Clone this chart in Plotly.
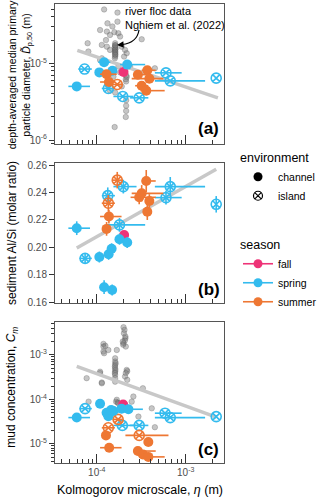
import plotly.graph_objects as go

# ---------------- data ----------------
# panel (a): depth-averaged median primary particle diameter (m)
a_gray_eta = [1.21e-4, 1.71e-4, 1.32e-4, 1.71e-4, 1.5e-4, 1.09e-4, 1.3e-4, 1.58e-4, 1.75e-4, 1.41e-4,
              1.83e-4, 7.9e-5, 8.05e-5, 1.27e-4, 1.14e-4, 1.3e-4, 1.41e-4, 1.91e-4, 2.08e-4, 2.17e-4,
              2.03e-4, 3.2e-4, 1.14e-4, 1.19e-4, 1.75e-4, 1.83e-4, 2.17e-4, 2.14e-4, 1.32e-4, 1.41e-4,
              1.61e-4, 2.14e-4, 2.14e-4, 2.14e-4, 2.12e-4, 1.59e-4, 1.09e-4, 2.37e-4, 1.54e-4, 1.91e-4,
              4.5e-4, 1.61e-4, 1.61e-4, 1.61e-4, 1.63e-4, 1.61e-4, 1.6e-4, 1.61e-4, 1.62e-4, 1.61e-4,
              1.6e-4, 1.61e-4, 1.62e-4, 1.61e-4, 1.6e-4, 1.62e-4, 2.12e-4, 2.15e-4]
a_gray_D = [5.0e-5, 4.55e-5, 3.3e-5, 3.47e-5, 3.0e-5, 2.7e-5, 2.58e-5, 2.53e-5, 2.45e-5, 2.33e-5,
            2.22e-5, 1.82e-5, 1.42e-5, 2.0e-5, 1.73e-5, 1.64e-5, 1.49e-5, 1.64e-5, 1.49e-5, 1.35e-5,
            1.22e-5, 2.05e-5, 1.16e-5, 1.05e-5, 9.05e-6, 7.6e-6, 6.6e-6, 5.8e-6, 5.2e-6, 4.4e-6,
            4.16e-6, 3.3e-6, 2.8e-6, 2.4e-6, 2.0e-6, 1.48e-6, 1.1e-5, 9.0e-6, 6.7e-6, 5.0e-6,
            8.6e-6, 1.82e-5, 1.72e-5, 1.64e-5, 1.56e-5, 1.49e-5, 1.42e-5, 1.35e-5, 1.28e-5, 1.22e-5,
            1.16e-5, 1.5e-5, 1.4e-5, 1.3e-5, 1.6e-5, 1.7e-5, 6.2e-6, 6.9e-6]
a_trend_eta = [6.05e-5, 2.3e-3]
a_trend_D = [1.47e-5, 3.55e-6]

a_spring_ch_eta = [5.96e-5, 1.07e-4, 1.21e-4, 1.5e-4, 2.2e-4]
a_spring_ch_D = [5.0e-6, 7.6e-6, 1.03e-5, 8.0e-6, 9.6e-6]
a_spring_ch_lo = [4.8e-5, 1.0e-4, 1.04e-4, 1.35e-4, 1.83e-4]
a_spring_ch_hi = [8.4e-5, 1.15e-4, 1.42e-4, 1.68e-4, 3.5e-4]

a_spring_is_eta = [7.3e-5, 1.35e-4, 1.96e-4, 3.0e-4, 6.0e-4, 6.7e-4, 2.2e-3]
a_spring_is_D = [8.4e-6, 4.7e-6, 3.7e-6, 3.55e-6, 7.5e-6, 5.9e-6, 6.4e-6]
a_spring_is_lo = [6.2e-5, 1.14e-4, 1.54e-4, 2.37e-4, 4.5e-4, 4.5e-4, 2.2e-3]
a_spring_is_hi = [8.8e-5, 1.6e-4, 2.58e-4, 3.8e-4, 9.0e-4, 1.65e-3, 2.2e-3]

a_fall_eta = [2.0e-4]
a_fall_D = [7.7e-6]
a_fall_lo = [1.9e-4]
a_fall_hi = [2.1e-4]

a_summer_ch_eta = [1.29e-4, 1.37e-4, 2.9e-4, 3.7e-4, 3.9e-4, 3.2e-4, 3.6e-4]
a_summer_ch_D = [7.2e-6, 5.7e-6, 7.1e-6, 8.1e-6, 6.3e-6, 5.1e-6, 4.4e-6]
a_summer_ch_lo = [1.09e-4, 1.09e-4, 2.6e-4, 3.2e-4, 2.47e-4, 2.7e-4, 3.1e-4]
a_summer_ch_hi = [1.68e-4, 1.6e-4, 3.6e-4, 4.6e-4, 5.6e-4, 3.8e-4, 5.8e-4]

a_summer_is_eta = [1.7e-4]
a_summer_is_D = [5.3e-6]
a_summer_is_lo = [1.5e-4]
a_summer_is_hi = [1.95e-4]

# panel (b): sediment Al/Si (molar ratio)
b_trend_eta = [5.96e-5, 2.2e-3]
b_trend_AlSi = [0.1995, 0.2569]

b_spring_ch_eta = [5.96e-5, 1.07e-4, 1.36e-4, 1.47e-4, 1.8e-4, 2.2e-4, 1.21e-4, 1.49e-4]
b_spring_ch_AlSi = [0.214, 0.193, 0.195, 0.199, 0.206, 0.2036, 0.171, 0.169]
b_spring_ch_lo = [4.8e-5, 1.0e-4, 1.25e-4, 1.38e-4, 1.7e-4, 2.05e-4, 1.1e-4, 1.38e-4]
b_spring_ch_hi = [8.4e-5, 1.15e-4, 1.45e-4, 1.58e-4, 1.95e-4, 2.4e-4, 1.32e-4, 1.6e-4]
b_spring_ch_err = [0.005, 0.004, 0.004, 0.004, 0.004, 0.004, 0.005, 0.004]

b_spring_is_eta = [7.4e-5, 1.33e-4, 1.99e-4, 1.8e-4, 6.0e-4, 6.7e-4, 2.2e-3]
b_spring_is_AlSi = [0.192, 0.2377, 0.2443, 0.2164, 0.2363, 0.2443, 0.2314]
b_spring_is_lo = [6.4e-5, 1.14e-4, 1.54e-4, 1.3e-4, 4.5e-4, 4.5e-4, 2.2e-3]
b_spring_is_hi = [8.8e-5, 1.6e-4, 2.8e-4, 3.5e-4, 9.0e-4, 1.65e-3, 2.2e-3]
b_spring_is_err = [0.004, 0.006, 0.005, 0.005, 0.005, 0.007, 0.006]

b_fall_eta = [2.03e-4]
b_fall_AlSi = [0.209]
b_fall_lo = [1.95e-4]
b_fall_hi = [2.1e-4]
b_fall_err = [0.003]

b_summer_ch_eta = [1.37e-4, 1.29e-4, 3.0e-4, 3.2e-4, 3.6e-4, 3.9e-4, 3.7e-4]
b_summer_ch_AlSi = [0.2225, 0.2135, 0.2365, 0.2394, 0.2484, 0.2338, 0.226]
b_summer_ch_lo = [1.09e-4, 1.2e-4, 2.4e-4, 2.47e-4, 3.2e-4, 3.5e-4, 3.5e-4]
b_summer_ch_hi = [1.9e-4, 1.42e-4, 4.6e-4, 5.6e-4, 4.6e-4, 4.2e-4, 3.9e-4]
b_summer_ch_err = [0.005, 0.005, 0.005, 0.006, 0.008, 0.005, 0.006]

b_summer_is_eta = [1.7e-4, 1.35e-4]
b_summer_is_AlSi = [0.249, 0.2322]
b_summer_is_lo = [1.5e-4, 1.14e-4]
b_summer_is_hi = [1.95e-4, 1.6e-4]
b_summer_is_err = [0.006, 0.006]

# panel (c): mud concentration
c_gray_eta = [1.19e-4, 1.19e-4, 1.19e-4, 1.21e-4, 1.35e-4, 2.0e-4, 2.05e-4, 2.02e-4, 2.1e-4, 2.07e-4,
              2.0e-4, 2.12e-4, 1.98e-4, 1.96e-4, 1.68e-4, 1.61e-4, 1.61e-4, 1.61e-4, 1.61e-4, 1.61e-4,
              1.61e-4, 1.61e-4, 1.61e-4, 1.63e-4, 1.6e-4, 1.62e-4, 1.6e-4, 2.17e-4, 2.2e-4, 2.12e-4,
              2.08e-4, 2.2e-4, 1.09e-4, 7.7e-5, 1.14e-4, 3.3e-4, 8.1e-5, 1.68e-4, 1.65e-4, 1.72e-4,
              2.47e-4, 4.15e-4, 2.94e-4, 4.5e-4, 1.09e-4, 1.14e-4, 2.58e-4, 1.75e-4, 1.25e-4, 2.1e-4]
c_gray_Cm = [1.77e-3, 1.54e-3, 1.19e-3, 1.09e-3, 1.29e-3, 4.2e-3, 3.65e-3, 3.07e-3, 2.37e-3, 2.1e-3,
             1.83e-3, 1.54e-3, 1.7e-3, 2.0e-3, 1.29e-3, 8.4e-4, 7.1e-4, 6.0e-4, 5.0e-4, 4.2e-4,
             3.55e-4, 3.0e-4, 2.5e-4, 6.5e-4, 5.5e-4, 4.6e-4, 3.9e-4, 4.6e-4, 4.3e-4, 3.9e-4,
             3.26e-4, 2.75e-4, 3.9e-4, 3.0e-4, 2.4e-4, 1.78e-4, 8.9e-5, 9.8e-5, 8.9e-5, 8.5e-5,
             8.9e-5, 6.3e-5, 4.1e-5, 2.37e-5, 4.2e-4, 2.3e-4, 1.16e-4, 8.2e-5, 1.6e-3, 2.6e-3]
c_trend_eta = [5.96e-5, 2.2e-3]
c_trend_Cm = [5.5e-4, 4.0e-5]

c_spring_ch_eta = [5.96e-5, 1.09e-4, 1.29e-4, 1.54e-4, 1.9e-4, 2.27e-4, 1.35e-4, 1.45e-4]
c_spring_ch_Cm = [3.9e-5, 8.0e-5, 5.0e-5, 5.5e-5, 6.2e-5, 6.0e-5, 4.2e-5, 5.8e-5]
c_spring_ch_lo = [4.8e-5, 1.0e-4, 1.2e-4, 1.4e-4, 1.75e-4, 2.05e-4, 1.25e-4, 1.35e-4]
c_spring_ch_hi = [8.4e-5, 1.18e-4, 1.4e-4, 1.68e-4, 2.05e-4, 3.3e-4, 1.45e-4, 1.58e-4]

c_spring_is_eta = [7.4e-5, 1.94e-4, 3.0e-4, 5.85e-4, 6.7e-4, 2.2e-3]
c_spring_is_Cm = [6.2e-5, 2.6e-5, 2.6e-5, 4.9e-5, 3.9e-5, 4.1e-5]
c_spring_is_lo = [6.4e-5, 1.54e-4, 2.37e-4, 4.5e-4, 4.5e-4, 2.2e-3]
c_spring_is_hi = [8.8e-5, 2.8e-4, 3.8e-4, 9.0e-4, 1.65e-3, 2.2e-3]

c_fall_eta = [1.98e-4]
c_fall_Cm = [7.7e-5]
c_fall_lo = [1.9e-4]
c_fall_hi = [2.1e-4]

c_summer_ch_eta = [1.27e-4, 1.38e-4, 3.8e-4, 2.9e-4, 3.3e-4, 3.8e-4]
c_summer_ch_Cm = [1.55e-5, 8.2e-6, 1.1e-5, 6.9e-6, 5.8e-6, 5.1e-6]
c_summer_ch_lo = [1.2e-4, 1.09e-4, 3.6e-4, 2.6e-4, 2.8e-4, 3.1e-4]
c_summer_ch_hi = [1.35e-4, 1.9e-4, 4.0e-4, 4.6e-4, 3.8e-4, 5.8e-4]

c_summer_is_eta = [1.74e-4, 1.35e-4, 3.0e-4]
c_summer_is_Cm = [3.55e-5, 2.3e-5, 1.55e-5]
c_summer_is_lo = [1.5e-4, 1.14e-4, 2.1e-4]
c_summer_is_hi = [1.95e-4, 1.6e-4, 6.4e-4]

x_tickvals = [1e-4, 1e-3]
x_ticktext = ["10<sup>-4</sup>", "10<sup>-3</sup>"]

# ---------------- styling ----------------
FONT = "Liberation Sans, Arial, sans-serif"
C_SPRING = "#33BBEE"
C_SUMMER = "#EE7733"
C_FALL = "#EE3377"
GRAY_PT = "rgba(120,120,120,0.42)"
GRAY_LN = "#C8C8C8"
TICKC = "#4D4D4D"
LINEC = "#555555"

fig = go.Figure()

def xerr(x, lo, hi, color):
    return dict(type="data", symmetric=False,
                array=[h - v for v, h in zip(x, hi)],
                arrayminus=[v - l for v, l in zip(x, lo)],
                color=color, thickness=1.6, width=0)

def add_group(xax, yax, x, y, lo, hi, color, island, yerr=None):
    kw = dict(x=x, y=y, xaxis=xax, yaxis=yax, mode="markers", showlegend=False,
              error_x=xerr(x, lo, hi, color), hoverinfo="skip")
    if yerr is not None:
        kw["error_y"] = dict(type="data", array=yerr, color=color, thickness=1.6, width=0)
    if island:
        kw["marker"] = dict(symbol="circle-x-open", size=10, color=color, line=dict(width=1.6, color=color))
    else:
        kw["marker"] = dict(symbol="circle", size=10, color=color, line=dict(width=0))
    fig.add_trace(go.Scatter(**kw))

def add_gray(xax, yax, x, y):
    fig.add_trace(go.Scatter(x=x, y=y, xaxis=xax, yaxis=yax, mode="markers", showlegend=False,
                             marker=dict(size=5.5, color=GRAY_PT, line=dict(width=0.6, color="rgba(80,80,80,0.45)")),
                             hoverinfo="skip"))

def add_trend(xax, yax, x, y):
    fig.add_trace(go.Scatter(x=x, y=y, xaxis=xax, yaxis=yax, mode="lines", showlegend=False,
                             line=dict(color=GRAY_LN, width=3.5), hoverinfo="skip"))

# panel a
add_gray("x", "y", a_gray_eta, a_gray_D)
add_trend("x", "y", a_trend_eta, a_trend_D)
add_group("x", "y", a_spring_is_eta, a_spring_is_D, a_spring_is_lo, a_spring_is_hi, C_SPRING, True)
add_group("x", "y", a_summer_is_eta, a_summer_is_D, a_summer_is_lo, a_summer_is_hi, C_SUMMER, True)
add_group("x", "y", a_fall_eta, a_fall_D, a_fall_lo, a_fall_hi, C_FALL, False)
add_group("x", "y", a_spring_ch_eta, a_spring_ch_D, a_spring_ch_lo, a_spring_ch_hi, C_SPRING, False)
add_group("x", "y", a_summer_ch_eta, a_summer_ch_D, a_summer_ch_lo, a_summer_ch_hi, C_SUMMER, False)

# panel b
add_trend("x2", "y2", b_trend_eta, b_trend_AlSi)
add_group("x2", "y2", b_spring_is_eta, b_spring_is_AlSi, b_spring_is_lo, b_spring_is_hi, C_SPRING, True, b_spring_is_err)
add_group("x2", "y2", b_summer_is_eta, b_summer_is_AlSi, b_summer_is_lo, b_summer_is_hi, C_SUMMER, True, b_summer_is_err)
add_group("x2", "y2", b_fall_eta, b_fall_AlSi, b_fall_lo, b_fall_hi, C_FALL, False, b_fall_err)
add_group("x2", "y2", b_spring_ch_eta, b_spring_ch_AlSi, b_spring_ch_lo, b_spring_ch_hi, C_SPRING, False, b_spring_ch_err)
add_group("x2", "y2", b_summer_ch_eta, b_summer_ch_AlSi, b_summer_ch_lo, b_summer_ch_hi, C_SUMMER, False, b_summer_ch_err)

# panel c
add_gray("x3", "y3", c_gray_eta, c_gray_Cm)
add_trend("x3", "y3", c_trend_eta, c_trend_Cm)
add_group("x3", "y3", c_spring_is_eta, c_spring_is_Cm, c_spring_is_lo, c_spring_is_hi, C_SPRING, True)
add_group("x3", "y3", c_summer_is_eta, c_summer_is_Cm, c_summer_is_lo, c_summer_is_hi, C_SUMMER, True)
add_group("x3", "y3", c_fall_eta, c_fall_Cm, c_fall_lo, c_fall_hi, C_FALL, False)
add_group("x3", "y3", c_spring_ch_eta, c_spring_ch_Cm, c_spring_ch_lo, c_spring_ch_hi, C_SPRING, False)
add_group("x3", "y3", c_summer_ch_eta, c_summer_ch_Cm, c_summer_ch_lo, c_summer_ch_hi, C_SUMMER, False)

# legends (dummy traces)
fig.add_trace(go.Scatter(x=[None], y=[None], mode="markers", name="channel", legend="legend",
                         marker=dict(symbol="circle", size=9, color="black")))
fig.add_trace(go.Scatter(x=[None], y=[None], mode="markers", name="island", legend="legend",
                         marker=dict(symbol="circle-x-open", size=9, color="black", line=dict(width=1.2, color="black"))))
for nm, col in [("fall", C_FALL), ("spring", C_SPRING), ("summer", C_SUMMER)]:
    fig.add_trace(go.Scatter(x=[None], y=[None], mode="lines+markers", name=nm, legend="legend2",
                             line=dict(color=col, width=1.6),
                             marker=dict(symbol="circle", size=9, color=col)))

minor_log = [k * 10.0 ** e for e in range(-7, 0) for k in range(2, 10)]

def xaxis_cfg(anchor, labels):
    return dict(type="log", range=[-4.469, -2.570], anchor=anchor, automargin=False,
                showline=True, mirror=True, linecolor=LINEC, linewidth=1,
                showgrid=False, zeroline=False,
                tickmode="array", tickvals=x_tickvals, ticktext=x_ticktext, tickangle=0,
                showticklabels=labels, ticks="inside", ticklen=9, tickwidth=1, tickcolor="#333",
                tickfont=dict(size=10, color=TICKC, family=FONT),
                minor=dict(tickmode="array", tickvals=minor_log, ticks="inside", ticklen=4,
                           tickwidth=1, tickcolor="#333", showgrid=False))

def ylog_cfg(anchor, rng, dom, vals, texts):
    return dict(type="log", range=rng, domain=dom, anchor=anchor, automargin=False,
                showline=True, mirror=True, linecolor=LINEC, linewidth=1,
                showgrid=False, zeroline=False, tickangle=0,
                tickmode="array", tickvals=vals, ticktext=texts,
                ticks="outside", ticklen=5, tickwidth=1, tickcolor="#333",
                tickfont=dict(size=10, color=TICKC, family=FONT),
                minor=dict(tickmode="array", tickvals=minor_log, ticks="outside", ticklen=3,
                           tickwidth=1, tickcolor="#333", showgrid=False))

fig.update_layout(
    width=320, height=501,
    margin=dict(l=55, r=96, t=4, b=38, autoexpand=False),
    paper_bgcolor="white", plot_bgcolor="white",
    font=dict(family=FONT, size=11, color="black"),
    xaxis=xaxis_cfg("y", False),
    xaxis2=xaxis_cfg("y2", False),
    xaxis3=xaxis_cfg("y3", True),
    yaxis=ylog_cfg("x", [-6.05, -4.23], [0.695, 1.0], [1e-6, 1e-5], ["10<sup>-6</sup>", "10<sup>-5</sup>"]),
    yaxis2=dict(range=[0.1595, 0.2615], domain=[0.3486, 0.6536], anchor="x2", automargin=False,
                showline=True, mirror=True, linecolor=LINEC, linewidth=1,
                showgrid=False, zeroline=False, tickangle=0,
                tickmode="array", tickvals=[0.16, 0.18, 0.20, 0.22, 0.24, 0.26],
                ticktext=["0.16", "0.18", "0.20", "0.22", "0.24", "0.26"],
                ticks="outside", ticklen=5, tickwidth=1, tickcolor="#333",
                tickfont=dict(size=10, color=TICKC, family=FONT)),
    yaxis3=ylog_cfg("x3", [-5.43, -2.26], [0.0, 0.3072], [1e-5, 1e-4, 1e-3],
                    ["10<sup>-5</sup>", "10<sup>-4</sup>", "10<sup>-3</sup>"]),
    legend=dict(title=dict(text="environment", font=dict(size=12.5, family=FONT)),
                xref="container", yref="container",
                x=238 / 320, y=1 - 146 / 501, xanchor="left", yanchor="top",
                font=dict(size=10.5, family=FONT), bgcolor="rgba(0,0,0,0)",
                itemwidth=30, tracegroupgap=0),
    legend2=dict(title=dict(text="season", font=dict(size=12.5, family=FONT)),
                 xref="container", yref="container",
                 x=238 / 320, y=1 - 233 / 501, xanchor="left", yanchor="top",
                 font=dict(size=10.5, family=FONT), bgcolor="rgba(0,0,0,0)",
                 itemwidth=30, tracegroupgap=0),
)

annots = [
    dict(text="depth-averaged median primary<br>particle diameter, <i>D̃</i><sub>p,50</sub> (m)",
         x=-0.205, y=0.8475, textangle=-90, font=dict(size=10.5)),
    dict(text="sediment Al/Si (molar ratio)", x=-0.255, y=0.501, textangle=-90, font=dict(size=12)),
    dict(text="mud concentration, <i>C<sub>m</sub></i>", x=-0.255, y=0.166, textangle=-90, font=dict(size=12)),
    dict(text="Kolmogorov microscale, <i>η</i> (m)", x=0.50, y=-0.059, font=dict(size=12.5)),
    dict(text="<b>(a)</b>", x=0.911, y=0.7277, font=dict(size=17)),
    dict(text="<b>(b)</b>", x=0.911, y=0.379, font=dict(size=17)),
    dict(text="<b>(c)</b>", x=0.911, y=0.0305, font=dict(size=17)),
    dict(text="river floc data<br>Nghiem et al. (2022)", x=0.402, y=0.9695, xanchor="left",
         align="left", font=dict(size=11)),
]
for a in annots:
    a.setdefault("xanchor", "center")
    fig.add_annotation(xref="paper", yref="paper", yanchor="middle", showarrow=False, **a)

# curved pointer from the label to the river floc cluster
def px2paper(px, py):
    return ((px - 55) / 169.0, (463 - py) / 459.0)

p0 = px2paper(139, 30)
p1 = px2paper(137, 43)
p2 = px2paper(122, 44.5)
fig.add_shape(type="path", xref="paper", yref="paper",
              path=f"M {p0[0]},{p0[1]} Q {p1[0]},{p1[1]} {p2[0]},{p2[1]}",
              line=dict(color="black", width=1.2))
tip = px2paper(117, 45)
fig.add_annotation(xref="paper", yref="paper", x=tip[0], y=tip[1], text="", showarrow=True,
                   ax=7, ay=-0.5, axref="pixel", ayref="pixel",
                   arrowhead=2, arrowsize=1.1, arrowwidth=1.2, arrowcolor="black")

fig.write_html("out.html", config={"displayModeBar": False},
               post_script="document.body.style.margin='0';document.body.style.padding='0';")
